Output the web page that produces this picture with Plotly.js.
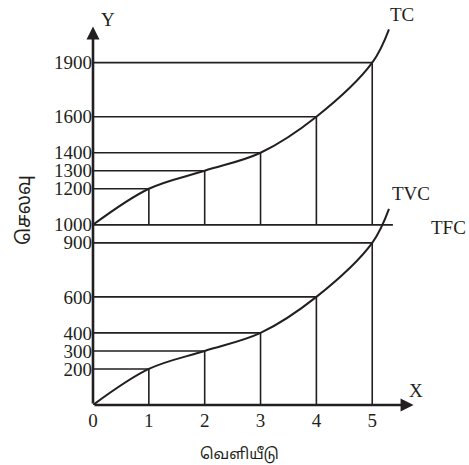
<!DOCTYPE html>
<html>
<head>
<meta charset="utf-8">
<script src="https://cdn.plot.ly/plotly-3.0.1.min.js"></script>
<style>html,body{margin:0;padding:0;background:#fff;}#chart{width:469px;height:465px;}</style>
</head>
<body>
<div id="chart"></div>
<script>
// ---- data ----
const outputs = [0, 1, 2, 3, 4, 5];
const tvc = [0, 200, 300, 400, 600, 900];
const tc = [1000, 1200, 1300, 1400, 1600, 1900];
const tfc = 1000;
// points (including their run past output 5)
const curveX   = [0, 1, 2, 3, 4, 5, 5.3];
const tvcCurve = [0, 200, 300, 400, 600, 900, 1088];
const tcCurve  = [1000, 1200, 1300, 1400, 1600, 1900, 2085];
const tfcEndX = 5.37;
const yTicks = [200, 300, 400, 600, 900, 1000, 1200, 1300, 1400, 1600, 1900];
const xTicks = [0, 1, 2, 3, 4, 5];
const yTitle = 'செலவு';
const xTitle = 'வெளியீடு';

const INK = '#231f20';
const SERIF = '"Liberation Serif", "DejaVu Serif", serif';
const TAMIL = '"Noto Sans Tamil", "Noto Sans", "Lohit Tamil", sans-serif';

// guide lines (horizontal to the y axis, vertical down to the base)
const gx = [], gy = [];
for (let i = 1; i < outputs.length; i++) {
  const k = outputs[i];
  gx.push(0, k, k, null); gy.push(tvc[i], tvc[i], 0, null);
  gx.push(0, k, k, null); gy.push(tc[i], tc[i], tfc, null);
}

const traces = [
  {x: gx, y: gy, mode: 'lines', line: {color: INK, width: 1.6}, hoverinfo: 'skip', showlegend: false},
  {x: [0, tfcEndX], y: [tfc, tfc], mode: 'lines', line: {color: INK, width: 1.8}, name: 'TFC', showlegend: false},
  {x: curveX, y: tvcCurve, mode: 'lines', line: {color: INK, width: 2, shape: 'spline', smoothing: 1}, name: 'TVC', showlegend: false},
  {x: curveX, y: tcCurve, mode: 'lines', line: {color: INK, width: 2, shape: 'spline', smoothing: 1}, name: 'TC', showlegend: false}
];

// pixel -> paper helpers
const L = 93, R = 13, T = 23, B = 60, W = 469, H = 465;
const px = x => (x - L) / (W - L - R);
const py = y => (H - B - y) / (H - T - B);

const lbl = (text, x, y, xanchor) => ({text, x: px(x), y: py(y), xref: 'paper', yref: 'paper', showarrow: false,
  xanchor: xanchor || 'center', yanchor: 'middle', borderpad: 0, font: {family: SERIF, size: 19, color: INK}});

const layout = {
  width: W, height: H,
  margin: {l: L, r: R, t: T, b: B, pad: 0},
  paper_bgcolor: '#fff', plot_bgcolor: '#fff',
  showlegend: false,
  xaxis: {range: [0, 6.5], showgrid: false, zeroline: false, showline: false,
    tickmode: 'array', tickvals: xTicks, ticktext: xTicks.map(String), ticks: '',
    ticklabelstandoff: 2,
    tickfont: {family: SERIF, size: 19, color: INK}, fixedrange: true},
  yaxis: {range: [0, 2120], showgrid: false, zeroline: false, showline: false,
    tickmode: 'array', tickvals: yTicks, ticktext: yTicks.map(String), ticks: '',
    ticklabelstandoff: 0,
    tickfont: {family: SERIF, size: 19, color: INK}, fixedrange: true},
  annotations: [
    // axes with arrowheads
    {x: 0, y: 2100, ax: 0, ay: 0, xref: 'x', yref: 'y', axref: 'x', ayref: 'y', text: '',
      showarrow: true, arrowhead: 2, arrowsize: 1, arrowwidth: 2.6, arrowcolor: INK},
    {x: 5.74, y: 0, ax: 0, ay: 0, xref: 'x', yref: 'y', axref: 'x', ayref: 'y', text: '',
      showarrow: true, arrowhead: 2, arrowsize: 1, arrowwidth: 2.6, arrowcolor: INK},
    lbl('Y', 108, 20),
    lbl('X', 416, 390),
    lbl('TC', 402, 15),
    lbl('TVC', 411, 193),
    lbl('TFC', 467, 227, 'right'),
    {text: yTitle, x: px(25), y: py(210), xref: 'paper', yref: 'paper', showarrow: false,
      textangle: -90, xanchor: 'center', yanchor: 'middle',
      font: {family: TAMIL, size: 19, color: INK}},
    {text: xTitle, x: px(239), y: py(455), xref: 'paper', yref: 'paper', showarrow: false,
      xanchor: 'center', yanchor: 'middle',
      font: {family: TAMIL, size: 15, color: INK}}
  ]
};

Plotly.newPlot('chart', traces, layout, {displayModeBar: false, staticPlot: true});
</script>
</body>
</html>
